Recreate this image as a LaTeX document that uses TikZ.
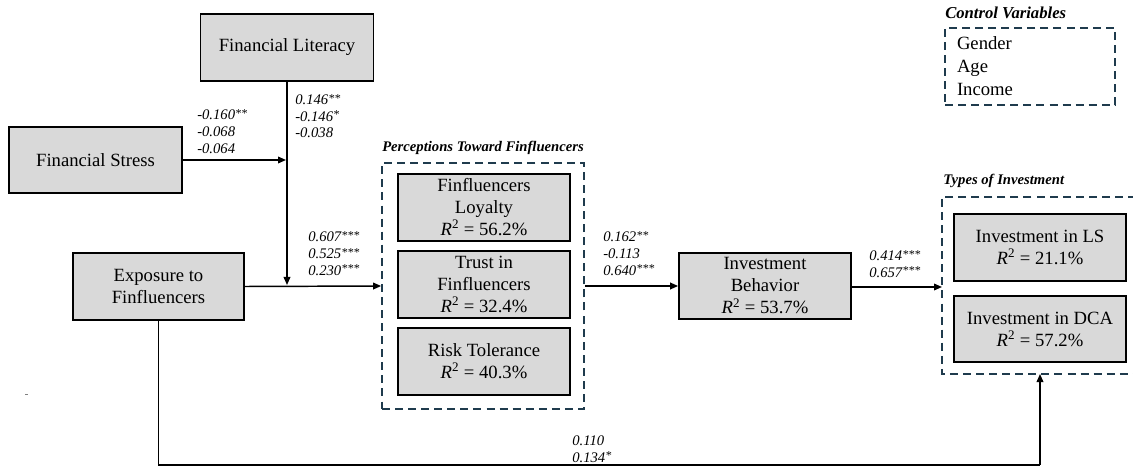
\documentclass[tikz,border=0pt]{standalone}
\usepackage{fontspec}
\setmainfont{Liberation Serif}
\usetikzlibrary{arrows.meta,positioning}
\definecolor{boxgray}{HTML}{D9D9D9}
\definecolor{dashnavy}{HTML}{1F3B4D}
\newcommand{\sigstar}[1]{\raisebox{0.35ex}{\fontsize{9}{9}\selectfont #1}}
\begin{document}
\begin{tikzpicture}[x=0.75pt,y=-0.75pt,
  box/.style={draw=black, line width=1.3pt, fill=boxgray, align=center,
    font=\fontsize{14}{16.5}\selectfont, inner sep=2pt},
  dbox/.style={draw=dashnavy, line width=1.3pt, dash pattern=on 6pt off 3.8pt},
  arr/.style={draw=black, line width=1.1pt, -{Triangle[length=6pt,width=5pt]}},
  conn/.style={draw=black, line width=1.1pt},
  coef/.style={font=\fontsize{11}{12.4}\selectfont\itshape, align=left, anchor=west, inner sep=0pt},
  grptitle/.style={font=\fontsize{11}{12}\selectfont\bfseries\itshape, anchor=west, inner sep=0pt}
]
\useasboundingbox (0,0) rectangle (1133,474);

% main boxes
\node[box, minimum width=129.75pt, minimum height=50.25pt] (fl) at (287,47.5) {Financial Literacy};
\node[box, minimum width=129.75pt, minimum height=49.5pt] (fs) at (95.5,160) {Financial Stress};
\node[box, minimum width=128.25pt, minimum height=50.25pt] (exp) at (158.5,286.5) {Exposure to\\Finfluencers};

% perceptions group
\node[grptitle] (perct) at (382,148) {Perceptions Toward Finfluencers};
\node[dbox, minimum width=151.5pt, minimum height=184.5pt] (perc) at (483,286) {};
\node[box, minimum width=129pt, minimum height=50.25pt] (loy) at (484,207.5) {Finfluencers\\Loyalty\\\textit{R}\textsuperscript{2} = 56.2\%};
\node[box, minimum width=129pt, minimum height=50.25pt] (trust) at (484,284.5) {Trust in\\Finfluencers\\\textit{R}\textsuperscript{2} = 32.4\%};
\node[box, minimum width=129pt, minimum height=50.25pt] (risk) at (484,361.5) {Risk Tolerance\\\textit{R}\textsuperscript{2} = 40.3\%};

% investment behavior
\node[box, minimum width=129pt, minimum height=49.5pt] (ib) at (765,286) {Investment\\Behavior\\\textit{R}\textsuperscript{2} = 53.7\%};

% types of investment group (right side runs off the page)
\node[grptitle] (typest) at (943,181) {Types of Investment};
\draw[dbox] (1136,197) -- (942,197) -- (942,374) -- (1136,374);
\coordinate (typesW) at (942,287);
\coordinate (typesS) at (1040,374);
\node[box, minimum width=129pt, minimum height=50.25pt] (ls) at (1040,247.5) {Investment in LS\\\textit{R}\textsuperscript{2} = 21.1\%};
\node[box, minimum width=129pt, minimum height=49.5pt] (dca) at (1040,329) {Investment in DCA\\\textit{R}\textsuperscript{2} = 57.2\%};

% control variables
\node[grptitle, font=\fontsize{12.5}{14}\selectfont\bfseries\itshape] (ctrlt) at (945,13) {Control Variables};
\node[dbox, minimum width=127.5pt, minimum height=57.75pt, text width=109.5pt,
  inner xsep=9pt, inner ysep=0pt, align=left, font=\fontsize{14}{17.25}\selectfont] (ctrl) at (1030,66.5) {Gender\\Age\\Income};

% connectors
\coordinate (m1) at (286,160);
\coordinate (m2) at (287,285);
\draw[arr] (fs.east) -- (m1);
\draw[arr] (fl.south) -- (m2);
\draw[arr] (exp.east) -- (perc.west);
\draw[arr] (perc.east) -- (ib.west);
\draw[arr] (ib.east |- typesW) -- (typesW);
\coordinate (bend) at (1040,465);
\draw[conn] (exp.south) |- (bend);
\draw[arr] (bend) -- (typesS);

% coefficients
\node[coef] (c1) at (197,131.5) {-0.160\sigstar{**}\\-0.068\\-0.064};
\node[coef] (c2) at (295,116) {0.146\sigstar{**}\\-0.146\sigstar{*}\\-0.038};
\node[coef] (c3) at (308,253.5) {0.607\sigstar{***}\\0.525\sigstar{***}\\0.230\sigstar{***}};
\node[coef] (c4) at (603,253.5) {0.162\sigstar{**}\\-0.113\\0.640\sigstar{***}};
\node[coef] (c5) at (869,264) {0.414\sigstar{***}\\0.657\sigstar{***}};
\node[coef] (c6) at (572,449) {0.110\\0.134\sigstar{*}};

% stray mark
\draw[gray, line width=0.5pt] (25,394) -- (28,394);
\end{tikzpicture}
\end{document}
